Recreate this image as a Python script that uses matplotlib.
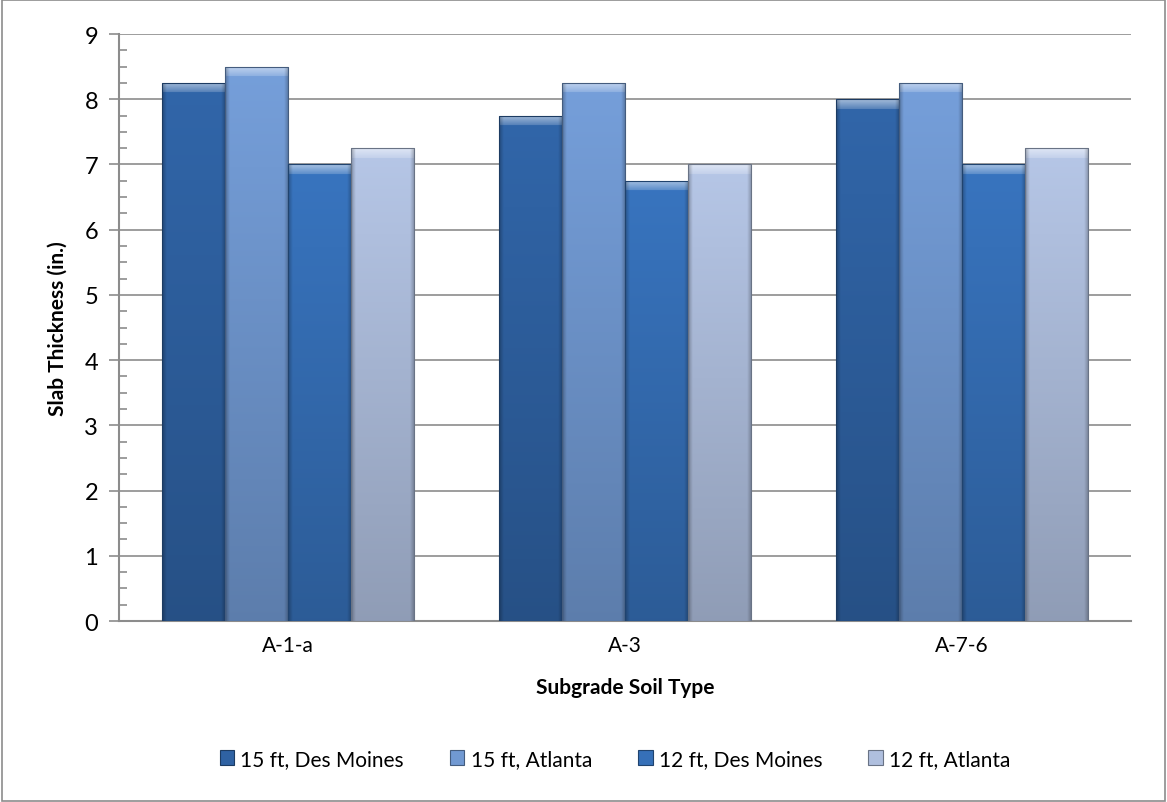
import numpy as np
import matplotlib

matplotlib.use("Agg")
import matplotlib.pyplot as plt
from matplotlib.patches import Patch, Rectangle
from matplotlib.colors import to_rgb

plt.rcParams["font.family"] = ["Lato", "DejaVu Sans"]

soil_types = ["A-1-a", "A-3", "A-7-6"]
series_names = ["15 ft, Des Moines", "15 ft, Atlanta", "12 ft, Des Moines", "12 ft, Atlanta"]
des_moines_15 = [8.25, 7.75, 8.0]
atlanta_15 = [8.5, 8.25, 8.25]
des_moines_12 = [7.0, 6.75, 7.0]
atlanta_12 = [7.25, 7.0, 7.25]
series_values = [des_moines_15, atlanta_15, des_moines_12, atlanta_12]
series_colors = ["#2f62a3", "#7199d2", "#3670b8", "#afbfde"]

GRID = "#8c8c8c"


def shaded_bar(ax, patch, color):
    # vertical gradient with a light bevel on top and darker sides
    base = np.array(to_rgb(color))
    x0, y0 = patch.get_x(), patch.get_y()
    w, h = patch.get_width(), patch.get_height()
    rows = max(int(h * 65), 2)
    cols = 64
    t = np.linspace(0, 1, rows)[:, None]  # 0 = top, 1 = bottom
    shade = 1.04 - 0.22 * t
    img = np.ones((rows, cols, 3)) * base
    img = img * shade[:, :, None]
    # top bevel
    bevel = 10
    top = np.zeros((rows, cols))
    top[:bevel, :] = np.linspace(0.55, 0.2, bevel)[:, None]
    img = img + (1 - img) * top[:, :, None]
    # side edges
    s = np.linspace(0, 1, cols)
    side = np.clip(1 - np.minimum(s, 1 - s) / 0.07, 0, 1) * 0.25
    img = img * (1 - side[None, :, None])
    img = np.clip(img, 0, 1)
    im = ax.imshow(img, extent=(x0, x0 + w, y0, y0 + h), aspect="auto",
                   interpolation="bilinear", zorder=3)
    im.set_clip_path(patch)
    patch.set_facecolor("none")
    patch.set_edgecolor(tuple(base * 0.6))
    patch.set_linewidth(0.8)
    patch.set_zorder(4)


fig = plt.figure(figsize=(11.67, 8.03), dpi=100)
ax = fig.add_axes([0.102, 0.2254, 0.867, 0.731])

x = np.arange(len(soil_types))
bar_w = 0.187
for i, (vals, col) in enumerate(zip(series_values, series_colors)):
    offs = (i - 1.5) * bar_w
    bars = ax.bar(x + offs, vals, width=bar_w, color=col, zorder=3)
    for p in bars:
        shaded_bar(ax, p, col)

ax.set_xlim(-0.5, 2.5)
ax.set_ylim(0, 9)
ax.set_yticks(range(0, 10))
ax.set_yticks(np.arange(0, 9.01, 0.25), minor=True)
ax.yaxis.grid(True, color=GRID, linewidth=1.2, zorder=0)
ax.set_axisbelow(True)
ax.tick_params(axis="y", which="major", direction="out", length=7, width=1.2,
               color=GRID, labelsize=17, pad=8)
ax.tick_params(axis="y", which="minor", direction="in", length=6, width=1.2, color=GRID)
ax.set_xticks(x)
ax.set_xticklabels(soil_types)
ax.tick_params(axis="x", length=0, labelsize=15, pad=10)
for side in ["top", "right"]:
    ax.spines[side].set_visible(False)
for side in ["left", "bottom"]:
    ax.spines[side].set_color(GRID)
    ax.spines[side].set_linewidth(1.5)

ax.set_ylabel("Slab Thickness (in.)", fontsize=15, fontweight="bold", labelpad=12)
ax.set_xlabel("Subgrade Soil Type", fontsize=15, fontweight="bold", labelpad=16)

handles = [Patch(facecolor=c, edgecolor=tuple(np.array(to_rgb(c)) * 0.6), linewidth=0.8)
           for c in series_colors]
fig.legend(handles, series_names, loc="center", bbox_to_anchor=(0.527, 0.054), ncol=4,
           frameon=False, fontsize=15, handlelength=0.7, handleheight=0.7,
           handletextpad=0.3, columnspacing=2.2)

# outer chart border
fig.patches.append(Rectangle((0.0015, 0.0015), 0.997, 0.997, transform=fig.transFigure,
                             fill=False, edgecolor="#8c8c8c", linewidth=1.2))

fig.savefig("out.png", dpi=100)
